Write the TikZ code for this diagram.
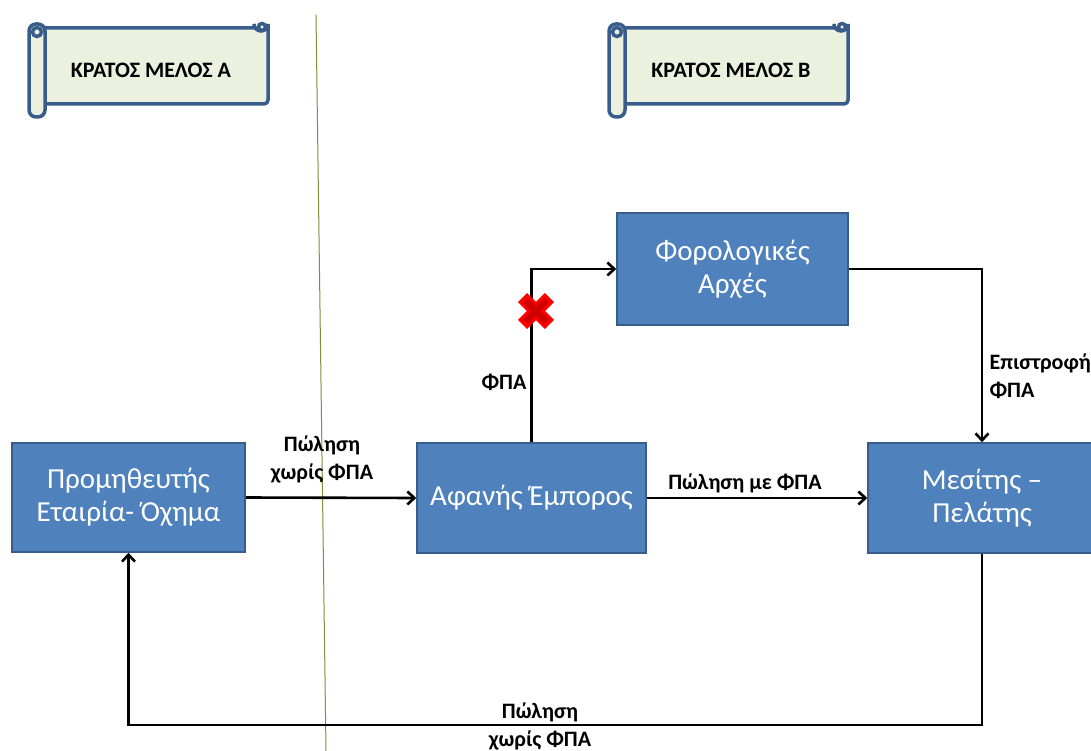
\documentclass[tikz,border=0pt]{standalone}
\usepackage{fontspec}
\setmainfont{Carlito}
\usetikzlibrary{
    arrows.meta,
    calc,
    positioning
}

\definecolor{boxblue}{RGB}{79,129,189}
\definecolor{boxedge}{RGB}{56,93,138}
\definecolor{scrollfill}{RGB}{235,241,222}
\definecolor{borderline}{RGB}{119,147,60}

\begin{document}
\begin{tikzpicture}[
    x=1pt, y=-1pt,
    bluebox/.style  = {rectangle, draw=boxedge, fill=boxblue, line width=1.5pt,
                       text=white, align=center, font=\fontsize{29}{33}\selectfont},
    lbl/.style      = {align=center, font=\bfseries\fontsize{22}{28}\selectfont},
    arr/.style      = {-{Straight Barb[length=7pt,width=13pt]}, line width=2.6pt},
    scrollline/.style = {draw=boxedge, line width=3.5pt, fill=scrollfill},
]
    \useasboundingbox (0,0) rectangle (1091,751);

    %Border between the two states
    \draw[borderline, line width=1pt] (316,15) -- (326,751);

    %Scrolls
    \foreach \sx/\name in {0/A, 580/B}{
      \begin{scope}[xshift=\sx]
        \draw[scrollline] (44,28) -- (254,28) -- (254,24) arc[start angle=180, end angle=0, radius=7]
              -- (268,100) arc[start angle=0, end angle=90, radius=4] -- (44,104);
        \draw[scrollline] (262,27) circle[radius=3.5];
        \draw[scrollline, rounded corners=7pt] (29,24) rectangle (45,117);
        \draw[scrollline] (37,32) circle[radius=4.5];
      \end{scope}
    }
    \node[font=\bfseries\fontsize{22}{26}\selectfont] (stateA) at (151,70) {ΚΡΑΤΟΣ ΜΕΛΟΣ Α};
    \node[font=\bfseries\fontsize{22}{26}\selectfont] (stateB) at (731,70) {ΚΡΑΤΟΣ ΜΕΛΟΣ Β};

    %Nodes
    \node[bluebox, minimum width=233, minimum height=109] (prom)    at (128.5,497.5) {Προμηθευτής\\Εταιρία- Όχημα};
    \node[bluebox, minimum width=229, minimum height=110] (afanis)  at (531.5,498)   {Αφανής Έμπορος};
    \node[bluebox, minimum width=231, minimum height=112] (foro)    at (732.5,269)   {Φορολογικές\\Αρχές};
    \node[bluebox, minimum width=228, minimum height=110] (mesitis) at (982,498)     {Μεσίτης –\\Πελάτης};
    \coordinate (loopbot) at (0,725);

    %Lines
    \draw[arr] (prom.east) -- (afanis.west);
    \draw[arr] (afanis.east) -- (mesitis.west);
    \draw[arr] (afanis.north) |- (foro.west);
    \draw[arr] (foro.east) -| (mesitis.north);
    \draw[arr] (mesitis.south) |- (prom.south |- loopbot) -- (prom.south);

    %Blocked VAT
    \coordinate (cross) at (536,311);
    \foreach \ang in {45,135}{
      \draw[red, line width=13pt] ($(cross)+(\ang:19)$) -- ($(cross)+(\ang+180:19)$);
    }
    \foreach \ang in {45,135}{
      \draw[red!82!black, line width=7pt] ($(cross)+(\ang:15)$) -- ($(cross)+(\ang+180:15)$);
    }

    %Labels
    \node[lbl] (sale1)  at (322,459) {Πώληση\\χωρίς ΦΠΑ};
    \node[lbl] (sale2)  at (745,483) {Πώληση με ΦΠΑ};
    \node[lbl] (vat)    at (504,382) {ΦΠΑ};
    \node[lbl, align=left, anchor=west] (refund) at (986,376) {Επιστροφή\\ΦΠΑ};
    \node[lbl] (sale3)  at (540,726) {Πώληση\\χωρίς ΦΠΑ};
\end{tikzpicture}
\end{document}
